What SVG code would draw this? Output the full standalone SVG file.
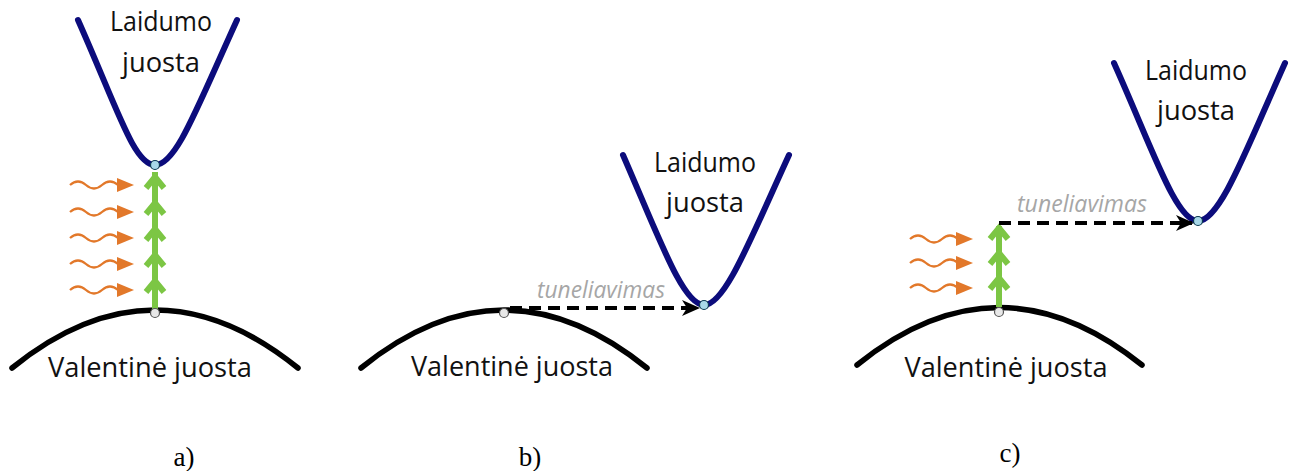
<svg xmlns="http://www.w3.org/2000/svg" width="1296" height="471" viewBox="0 0 1296 471">
<defs>
<style>
.cb{fill:none;stroke:#0c0c7c;stroke-width:6;stroke-linecap:round}
.vb{fill:none;stroke:#000;stroke-width:5.5;stroke-linecap:round}
.lbl{font-family:"Open Sans","Liberation Sans",sans-serif;font-size:26.5px;fill:#111;text-anchor:middle}
.tun{font-family:"Open Sans","Liberation Sans",sans-serif;font-size:23.5px;font-style:italic;fill:#a6a6a6;text-anchor:middle}
.cap{font-family:"Liberation Serif",serif;font-size:27px;fill:#000;text-anchor:middle}
.gl{fill:none;stroke:#7cc644;stroke-width:6}
.gc{fill:none;stroke:#7cc644;stroke-width:6;stroke-linejoin:miter}
.wv{fill:none;stroke:#e2782a;stroke-width:2.3}
.wh{fill:#e2782a}
.dash{fill:none;stroke:#000;stroke-width:4;stroke-dasharray:12 7}
.ec{fill:#a8d8e8;stroke:#0c3a50;stroke-width:1.2}
.hc{fill:#e8e8e8;stroke:#555;stroke-width:1.2}
</style>
<marker id="ah" viewBox="0 0 18 16" refX="16" refY="8" markerWidth="18" markerHeight="16" markerUnits="userSpaceOnUse" orient="auto">
<path d="M0,0 L18,8 L0,16 L5,8 Z" fill="#000"/>
</marker>
<path id="wave" d="M0,0 q8,-7 16,0 t16,0 t16,0"/>
</defs>

<g id="panel-a">
<g id="a-conduction">
<path class="cb" d="M78,20 C118,110 134,165 155,165 C176,165 196,110 237,20"/>
<text class="lbl" x="161" y="31" textLength="102" lengthAdjust="spacingAndGlyphs">Laidumo</text>
<text class="lbl" x="161" y="72" textLength="78" lengthAdjust="spacingAndGlyphs">juosta</text>
</g>
<g id="a-valence">
<path class="vb" d="M12,368 Q155,252 298,368"/>
<text class="lbl" x="150" y="377" textLength="204" lengthAdjust="spacingAndGlyphs">Valentinė juosta</text>
</g>
<g id="a-photons">
<use href="#wave" class="wv" x="70" y="185"/><path class="wh" d="M117,178 L134,185 L117,192 Z"/>
<use href="#wave" class="wv" x="70" y="212"/><path class="wh" d="M117,205 L134,212 L117,219 Z"/>
<use href="#wave" class="wv" x="70" y="238"/><path class="wh" d="M117,231 L134,238 L117,245 Z"/>
<use href="#wave" class="wv" x="70" y="264"/><path class="wh" d="M117,257 L134,264 L117,271 Z"/>
<use href="#wave" class="wv" x="70" y="290"/><path class="wh" d="M117,283 L134,290 L117,297 Z"/>
</g>
<g id="a-excitation">
<line class="gl" x1="155" y1="310" x2="155" y2="172"/>
<path class="gc" d="M146,188 L155,177 L164,188"/>
<path class="gc" d="M146,214 L155,203 L164,214"/>
<path class="gc" d="M146,240 L155,229 L164,240"/>
<path class="gc" d="M146,266 L155,255 L164,266"/>
<path class="gc" d="M146,292 L155,281 L164,292"/>
</g>
<circle class="ec" cx="155" cy="165" r="4.5"/>
<circle class="hc" cx="155" cy="313" r="4.5"/>
<text class="cap" x="184" y="466">a)</text>
</g>

<g id="panel-b">
<g id="b-conduction">
<path class="cb" d="M623,155 C660,240 683,305 704,305 C725,305 750,240 789,155"/>
<text class="lbl" x="705" y="172" textLength="102" lengthAdjust="spacingAndGlyphs">Laidumo</text>
<text class="lbl" x="705" y="212" textLength="78" lengthAdjust="spacingAndGlyphs">juosta</text>
</g>
<g id="b-valence">
<path class="vb" d="M361,368 Q504,252 647,368"/>
<text class="lbl" x="512" y="376" textLength="202" lengthAdjust="spacingAndGlyphs">Valentinė juosta</text>
</g>
<text class="tun" x="601" y="298" textLength="128" lengthAdjust="spacingAndGlyphs">tuneliavimas</text>
<circle class="hc" cx="504" cy="313" r="4.5"/>
<circle class="ec" cx="704" cy="305" r="4.5"/>
<text class="cap" x="530" y="466">b)</text>
</g>

<g id="panel-c">
<g id="c-conduction">
<path class="cb" d="M1114,63 C1153,150 1176,221 1198,221 C1220,221 1246,150 1285,63"/>
<text class="lbl" x="1196" y="80" textLength="102" lengthAdjust="spacingAndGlyphs">Laidumo</text>
<text class="lbl" x="1196" y="120" textLength="78" lengthAdjust="spacingAndGlyphs">juosta</text>
</g>
<g id="c-valence">
<path class="vb" d="M857,365 Q999,250 1142,365"/>
<text class="lbl" x="1006" y="377" textLength="203" lengthAdjust="spacingAndGlyphs">Valentinė juosta</text>
</g>
<g id="c-photons">
<use href="#wave" class="wv" x="910" y="239"/><path class="wh" d="M956,232 L973,239 L956,246 Z"/>
<use href="#wave" class="wv" x="910" y="263"/><path class="wh" d="M956,256 L973,263 L956,270 Z"/>
<use href="#wave" class="wv" x="910" y="288"/><path class="wh" d="M956,281 L973,288 L956,295 Z"/>
</g>
<g id="c-excitation">
<line class="gl" x1="999" y1="307" x2="999" y2="226"/>
<path class="gc" d="M990,239 L999,228 L1008,239"/>
<path class="gc" d="M990,264 L999,253 L1008,264"/>
<path class="gc" d="M990,289 L999,278 L1008,289"/>
</g>
<text class="tun" x="1082" y="212" textLength="130" lengthAdjust="spacingAndGlyphs">tuneliavimas</text>
<circle class="hc" cx="999" cy="312" r="4.5"/>
<circle class="ec" cx="1198" cy="221" r="4.5"/>
<text class="cap" x="1010" y="462">c)</text>
</g>

<g id="connectors">
<path class="dash" d="M510,308 L698,308" marker-end="url(#ah)"/>
<path class="dash" d="M999,223 L1192,223" marker-end="url(#ah)"/>
</g>
</svg>
